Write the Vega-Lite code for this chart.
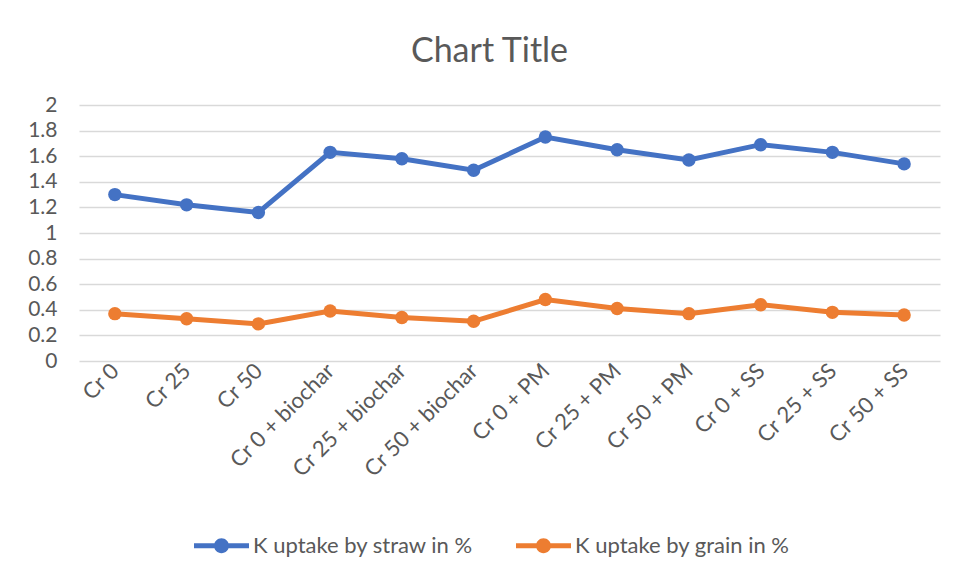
{
  "$schema": "https://vega.github.io/schema/vega-lite/v6.json",
  "autosize": {"type": "none"},
  "width": 861,
  "height": 256,
  "padding": {"left": 79, "top": 105, "right": 18, "bottom": 218},
  "background": "white",
  "title": {
    "text": "Chart Title",
    "font": "Lato",
    "fontSize": 34,
    "fontWeight": "normal",
    "color": "#595959",
    "anchor": "middle",
    "offset": 25,
    "dx": -20
  },
  "config": {
    "view": {"stroke": null},
    "axis": {"labelFont": "Lato", "labelFontSize": 21, "labelColor": "#595959", "titleFont": "Lato"},
    "legend": {"labelFont": "Lato", "labelFontSize": 22, "labelColor": "#595959"}
  },
  "data": {
    "values": [
      {"treatment": "Cr 0", "series": "K uptake by straw in %", "value": 1.30},
      {"treatment": "Cr 25", "series": "K uptake by straw in %", "value": 1.22},
      {"treatment": "Cr 50", "series": "K uptake by straw in %", "value": 1.16},
      {"treatment": "Cr 0 + biochar", "series": "K uptake by straw in %", "value": 1.63},
      {"treatment": "Cr 25 + biochar", "series": "K uptake by straw in %", "value": 1.58},
      {"treatment": "Cr 50  + biochar", "series": "K uptake by straw in %", "value": 1.49},
      {"treatment": "Cr 0 + PM", "series": "K uptake by straw in %", "value": 1.75},
      {"treatment": "Cr 25 + PM", "series": "K uptake by straw in %", "value": 1.65},
      {"treatment": "Cr 50 + PM", "series": "K uptake by straw in %", "value": 1.57},
      {"treatment": "Cr 0 + SS", "series": "K uptake by straw in %", "value": 1.69},
      {"treatment": "Cr 25 + SS", "series": "K uptake by straw in %", "value": 1.63},
      {"treatment": "Cr 50 + SS", "series": "K uptake by straw in %", "value": 1.54},
      {"treatment": "Cr 0", "series": "K uptake by grain in %", "value": 0.37},
      {"treatment": "Cr 25", "series": "K uptake by grain in %", "value": 0.33},
      {"treatment": "Cr 50", "series": "K uptake by grain in %", "value": 0.29},
      {"treatment": "Cr 0 + biochar", "series": "K uptake by grain in %", "value": 0.39},
      {"treatment": "Cr 25 + biochar", "series": "K uptake by grain in %", "value": 0.34},
      {"treatment": "Cr 50  + biochar", "series": "K uptake by grain in %", "value": 0.31},
      {"treatment": "Cr 0 + PM", "series": "K uptake by grain in %", "value": 0.48},
      {"treatment": "Cr 25 + PM", "series": "K uptake by grain in %", "value": 0.41},
      {"treatment": "Cr 50 + PM", "series": "K uptake by grain in %", "value": 0.37},
      {"treatment": "Cr 0 + SS", "series": "K uptake by grain in %", "value": 0.44},
      {"treatment": "Cr 25 + SS", "series": "K uptake by grain in %", "value": 0.38},
      {"treatment": "Cr 50 + SS", "series": "K uptake by grain in %", "value": 0.36}
    ]
  },
  "mark": {"type": "line", "strokeWidth": 5, "point": {"filled": true, "size": 180, "opacity": 1}},
  "encoding": {
    "x": {
      "field": "treatment",
      "type": "nominal",
      "sort": null,
      "scale": {"type": "point", "padding": 0.5},
      "axis": {
        "title": null,
        "labelAngle": -45,
        "labelAlign": "right",
        "labelBaseline": "middle",
        "labelPadding": 6,
        "labelFontSize": 22,
        "domain": false,
        "ticks": false,
        "grid": false
      }
    },
    "y": {
      "field": "value",
      "type": "quantitative",
      "scale": {"domain": [0, 2], "nice": false},
      "axis": {
        "title": null,
        "values": [0, 0.2, 0.4, 0.6, 0.8, 1, 1.2, 1.4, 1.6, 1.8, 2],
        "format": ".1~f",
        "domain": false,
        "ticks": false,
        "labelPadding": 22,
        "gridColor": "#D9D9D9",
        "gridWidth": 1.3
      }
    },
    "color": {
      "field": "series",
      "type": "nominal",
      "scale": {"domain": ["K uptake by straw in %", "K uptake by grain in %"], "range": ["#4472C4", "#ED7D31"]},
      "legend": {
        "title": null,
        "orient": "none",
        "direction": "horizontal",
        "legendX": 115,
        "legendY": 413,
        "padding": 0,
        "labelLimit": 400,
        "symbolType": "M -1 -0.09 L 1 -0.09 L 1 0.09 L -1 0.09 Z M 0.27 0 A 0.27 0.27 0 1 1 -0.27 0 A 0.27 0.27 0 1 1 0.27 0 Z",
        "symbolSize": 3025,
        "symbolStrokeWidth": 0,
        "symbolOpacity": 1,
        "labelOffset": 4,
        "columnPadding": 42,
        "encode": {
          "symbols": {
            "update": {
              "fill": {"scale": "color", "field": "value"},
              "strokeWidth": {"value": 0},
              "opacity": {"value": 1}
            }
          }
        }
      }
    }
  }
}
